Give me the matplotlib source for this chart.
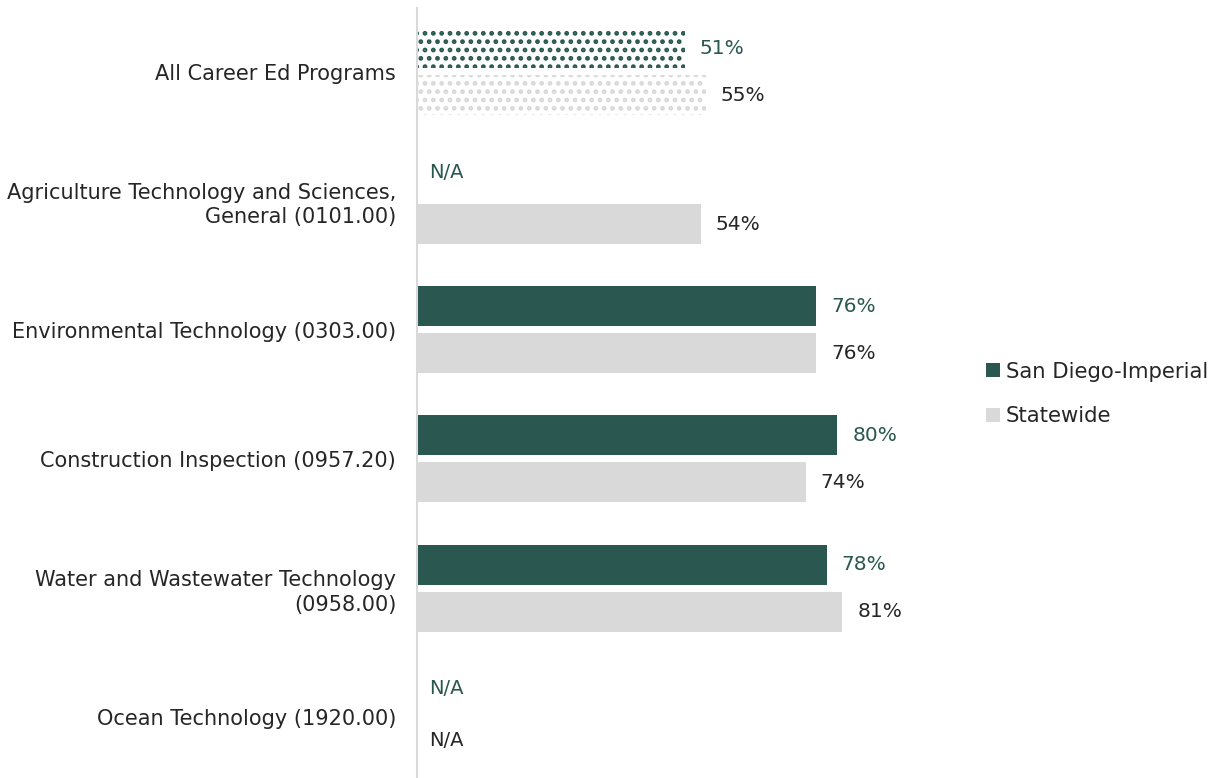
import matplotlib.pyplot as plt
import numpy as np
from matplotlib.patches import Patch

categories = ["All Career Ed Programs",
              "Agriculture Technology and Sciences,\nGeneral (0101.00)",
              "Environmental Technology (0303.00)",
              "Construction Inspection (0957.20)",
              "Water and Wastewater Technology\n(0958.00)",
              "Ocean Technology (1920.00)"]
san_diego = [51, None, 76, 80, 78, None]
statewide = [55, 54, 76, 74, 81, None]
series_names = ["San Diego-Imperial", "Statewide"]

dark = "#2a5750"
light = "#d9d9d9"
plt.rcParams['font.family'] = ['DejaVu Sans']
plt.rcParams['hatch.linewidth'] = 2.2

fig = plt.figure(figsize=(12.17, 7.78), dpi=100)
ax = fig.add_axes([417 / 1217, -3.7 / 778, 525 / 1217, 774.7 / 778])

y = np.arange(len(categories))
off = 0.182
h = 0.31

for i in range(len(categories)):
    v = san_diego[i]
    if v is None:
        ax.text(2.3, y[i] - off - 0.04, "N/A", va="center", ha="left", fontsize=14, color=dark)
    else:
        if i == 0:
            ax.barh(y[i] - off, v, height=h, color="white", edgecolor=dark, hatch="..", linewidth=0)
        else:
            ax.barh(y[i] - off, v, height=h, color=dark)
        ax.text(v + 2.9, y[i] - off, "%d%%" % v, va="center", ha="left", fontsize=14.5, color=dark)
    v = statewide[i]
    if v is None:
        ax.text(2.3, y[i] + off, "N/A", va="center", ha="left", fontsize=14, color="#262626")
    else:
        if i == 0:
            ax.barh(y[i] + off, v, height=h, color="white", edgecolor=light, hatch="..", linewidth=0)
        else:
            ax.barh(y[i] + off, v, height=h, color=light)
        ax.text(v + 2.9, y[i] + off, "%d%%" % v, va="center", ha="left", fontsize=14.5, color="#262626")

ax.set_xlim(0, 100)
ax.set_ylim(len(categories) - 0.5, -0.5)
ax.set_yticks(y)
ax.set_yticklabels(categories, fontsize=15, color="#262626", linespacing=1.3)
ax.tick_params(axis="y", length=0, pad=15)
ax.set_xticks([])
for s in ["top", "right", "bottom"]:
    ax.spines[s].set_visible(False)
ax.spines["left"].set_color("#d9d9d9")
ax.spines["left"].set_linewidth(1.5)
ax.spines["left"].set_bounds(len(categories) - 0.5, -0.49)

handles = [Patch(facecolor=dark), Patch(facecolor=light)]
fig.legend(handles, series_names, loc="center left", bbox_to_anchor=(967 / 1217, 1 - 394 / 778),
           frameon=False, fontsize=15.2, handlelength=0.65, handleheight=0.65, handletextpad=0.3,
           labelspacing=1.15, labelcolor="#262626")

fig.savefig("out.png", dpi=100)
